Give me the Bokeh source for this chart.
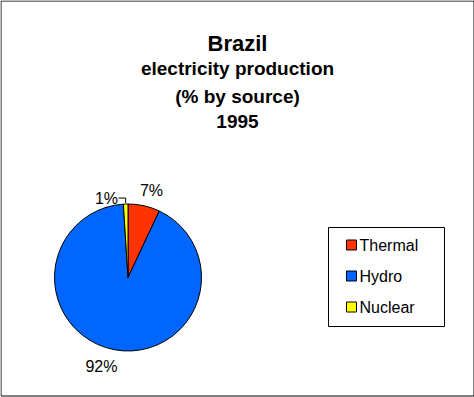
import math
from bokeh.plotting import figure
from bokeh.models import Range1d
from bokeh.core.properties import value
from bokeh.embed import file_html
from bokeh.resources import INLINE

# ---- data ----
sources = ["Thermal", "Hydro", "Nuclear"]
shares = [7, 92, 1]
colors = ["#FF3300", "#0066FF", "#FFFF00"]
title_lines = ["Brazil", "electricity production", "(% by source)", "1995"]

FONT = value("Liberation Sans")
W, H = 474, 397  # data units == page pixels; y flipped via Y()


def Y(y):
    return H - y


p = figure(width=W, height=H, output_backend="svg", toolbar_location=None,
           x_range=Range1d(0, W), y_range=Range1d(0, H),
           x_axis_type=None, y_axis_type=None, min_border=0)
p.grid.visible = False
p.outline_line_color = None
p.background_fill_color = "white"
p.border_fill_color = "white"

# chart border
p.quad(left=[0.5], right=[W - 0.5], top=[Y(0.5)], bottom=[Y(395.5)],
       fill_color=None, line_color="black", line_width=1)

# ---- title ----
title_sizes = ["22px", "19px", "19px", "19px"]
title_base = [43, 68, 96, 121]
for t, s, b in zip(title_lines, title_sizes, title_base):
    p.text(x=[237], y=[Y(b)], text=[t], text_font=FONT, text_font_size=s,
           text_font_style="bold", text_align="center", text_baseline="alphabetic",
           text_color="black")

# ---- pie ----
cx, cy, r = 127.5, 277, 73.5
total = float(sum(shares))
starts, ends, mids = [], [], []
acc = 0.0
for v in shares:
    a0 = math.pi / 2 - 2 * math.pi * acc / total
    acc += v
    a1 = math.pi / 2 - 2 * math.pi * acc / total
    starts.append(a0)
    ends.append(a1)
    mids.append((a0 + a1) / 2)

p.wedge(x=[cx] * len(shares), y=[Y(cy)] * len(shares), radius=r,
        start_angle=starts, end_angle=ends, direction="clock",
        fill_color=colors, line_color="black", line_width=1)

# ---- data labels ----
R_lab = 92
nudge_x = [3.4, -9.3, -18.6]
nudge_y = [2.8, -1.4, 12.5]
lx, ly, lt = [], [], []
for v, m, dx, dy in zip(shares, mids, nudge_x, nudge_y):
    lx.append(cx + R_lab * math.cos(m) + dx)
    ly.append(Y(cy - R_lab * math.sin(m) + dy))
    lt.append(f"{v}%")
p.text(x=lx, y=ly, text=lt, text_font=FONT, text_font_size="16px",
       text_align="center", text_baseline="middle", text_color="black")

# leader line for the small slice
i = 2
ex = cx + r * math.cos(mids[i])
ey = cy - r * math.sin(mids[i])
p.line(x=[lx[i] + 12, ex, ex], y=[Y(ey - 6), Y(ey - 6), Y(ey - 1)],
       line_color="black", line_width=1)

# ---- legend ----
p.quad(left=[328], right=[444], top=[Y(227)], bottom=[Y(326)],
       fill_color="white", line_color="black", line_width=1)
leg_y = [244.5, 275.5, 306.5]
p.rect(x=[351] * 3, y=[Y(v) for v in leg_y], width=10, height=10,
       fill_color=colors, line_color="black", line_width=1)
p.text(x=[359] * 3, y=[Y(v) for v in leg_y], text=sources, text_font=FONT,
       text_font_size="16px", text_align="left", text_baseline="middle",
       text_color="black")

open("out.html", "w").write(file_html(p, INLINE))
